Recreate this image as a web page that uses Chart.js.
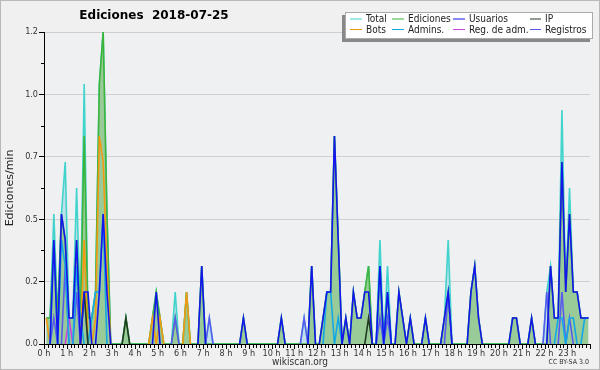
<!DOCTYPE html>
<html>
<head>
<meta charset="utf-8">
<script src="https://cdn.jsdelivr.net/npm/chart.js@4.4.0/dist/chart.umd.min.js"></script>
<style>
  html, body { margin: 0; padding: 0; background: #f0f0f0; }
  #wrap { width: 600px; height: 370px; }
</style>
</head>
<body>
<div id="wrap"><canvas id="grafico" width="600" height="370"></canvas></div>
<script>
// Ediciones por minuto, tramos de 10 minutos (144 por día)
const horas = ['0 h', '1 h', '2 h', '3 h', '4 h', '5 h', '6 h', '7 h', '8 h', '9 h', '10 h', '11 h',
               '12 h', '13 h', '14 h', '15 h', '16 h', '17 h', '18 h', '19 h', '20 h', '21 h', '22 h', '23 h'];

const total = [
  0.1, 0.1, 0.5, 0.1, 0.5, 0.7, 0.1, 0.1, 0.6, 0.1, 1.0, 0.1,
  0.1, 0.2, 1.0, 1.2, 0.5, 0, 0, 0, 0, 0.1, 0, 0,
  0, 0, 0, 0, 0.1, 0.2, 0.1, 0, 0, 0, 0.2, 0,
  0, 0.2, 0, 0, 0, 0.3, 0, 0.1, 0, 0, 0, 0,
  0, 0, 0, 0, 0.1, 0, 0, 0, 0, 0, 0, 0,
  0, 0, 0.1, 0, 0, 0, 0, 0, 0.1, 0, 0.3, 0,
  0, 0.1, 0.2, 0.2, 0.8, 0.4, 0, 0.1, 0, 0.2, 0.1, 0.1,
  0.2, 0.3, 0, 0, 0.4, 0, 0.3, 0, 0, 0.2, 0.1, 0,
  0.1, 0, 0, 0, 0.1, 0, 0, 0, 0, 0.1, 0.4, 0,
  0, 0, 0, 0, 0.2, 0.3, 0.1, 0, 0, 0, 0, 0,
  0, 0, 0, 0.1, 0.1, 0, 0, 0, 0.1, 0, 0, 0,
  0.2, 0.3, 0.1, 0.1, 0.9, 0.2, 0.6, 0.2, 0.2, 0.1, 0.1, 0.1
];

const ediciones = [
  0.1, 0.1, 0.4, 0.1, 0.5, 0.4, 0.1, 0.1, 0.4, 0.1, 0.8, 0.1,
  0.1, 0.2, 1.0, 1.2, 0.5, 0, 0, 0, 0, 0.1, 0, 0,
  0, 0, 0, 0, 0.1, 0.2, 0.1, 0, 0, 0, 0.1, 0,
  0, 0.2, 0, 0, 0, 0.3, 0, 0, 0, 0, 0, 0,
  0, 0, 0, 0, 0.1, 0, 0, 0, 0, 0, 0, 0,
  0, 0, 0.1, 0, 0, 0, 0, 0, 0, 0, 0.3, 0,
  0, 0.1, 0.2, 0.2, 0.8, 0.4, 0, 0.1, 0, 0.2, 0.1, 0.1,
  0.2, 0.3, 0, 0, 0.3, 0, 0.2, 0, 0, 0.2, 0.1, 0,
  0.1, 0, 0, 0, 0.1, 0, 0, 0, 0, 0.1, 0.2, 0,
  0, 0, 0, 0, 0.2, 0.3, 0.1, 0, 0, 0, 0, 0,
  0, 0, 0, 0.1, 0.1, 0, 0, 0, 0.1, 0, 0, 0,
  0, 0.3, 0.1, 0.1, 0.7, 0.2, 0.5, 0.2, 0.2, 0.1, 0.1, 0.1
];

const usuarios = [
  0, 0, 0.4, 0, 0.5, 0.4, 0.1, 0.1, 0.4, 0, 0.2, 0.2,
  0, 0, 0.2, 0.5, 0.2, 0, 0, 0, 0, 0, 0, 0,
  0, 0, 0, 0, 0, 0.2, 0, 0, 0, 0, 0, 0,
  0, 0, 0, 0, 0, 0.3, 0, 0, 0, 0, 0, 0,
  0, 0, 0, 0, 0.1, 0, 0, 0, 0, 0, 0, 0,
  0, 0, 0.1, 0, 0, 0, 0, 0, 0, 0, 0.3, 0,
  0, 0.1, 0.2, 0.2, 0.8, 0.4, 0, 0.1, 0, 0.2, 0.1, 0.1,
  0.2, 0.2, 0, 0, 0.3, 0, 0.2, 0, 0, 0.2, 0.1, 0,
  0.1, 0, 0, 0, 0.1, 0, 0, 0, 0, 0.1, 0.2, 0,
  0, 0, 0, 0, 0.2, 0.3, 0.1, 0, 0, 0, 0, 0,
  0, 0, 0, 0.1, 0.1, 0, 0, 0, 0.1, 0, 0, 0,
  0, 0.3, 0.1, 0.1, 0.7, 0.2, 0.5, 0.2, 0.2, 0.1, 0.1, 0.1
];

const ip = [
  0, 0, 0, 0, 0, 0, 0, 0, 0, 0, 0.2, 0,
  0, 0, 0, 0, 0, 0, 0, 0, 0, 0.1, 0, 0,
  0, 0, 0, 0, 0, 0, 0, 0, 0, 0, 0, 0,
  0, 0, 0, 0, 0, 0, 0, 0, 0, 0, 0, 0,
  0, 0, 0, 0, 0, 0, 0, 0, 0, 0, 0, 0,
  0, 0, 0, 0, 0, 0, 0, 0, 0, 0, 0, 0,
  0, 0, 0, 0, 0, 0, 0, 0, 0, 0, 0, 0,
  0, 0.1, 0, 0, 0, 0, 0, 0, 0, 0, 0, 0,
  0, 0, 0, 0, 0, 0, 0, 0, 0, 0, 0, 0,
  0, 0, 0, 0, 0, 0, 0, 0, 0, 0, 0, 0,
  0, 0, 0, 0, 0, 0, 0, 0, 0, 0, 0, 0,
  0, 0, 0, 0, 0, 0, 0, 0, 0, 0, 0, 0
];

const bots = [
  0.1, 0, 0, 0, 0, 0, 0, 0, 0, 0, 0.4, 0,
  0, 0.1, 0.8, 0.7, 0.3, 0, 0, 0, 0, 0, 0, 0,
  0, 0, 0, 0, 0.1, 0, 0.1, 0, 0, 0, 0, 0,
  0, 0.2, 0, 0, 0, 0, 0, 0, 0, 0, 0, 0,
  0, 0, 0, 0, 0, 0, 0, 0, 0, 0, 0, 0,
  0, 0, 0, 0, 0, 0, 0, 0, 0, 0, 0, 0,
  0, 0, 0, 0, 0, 0, 0, 0, 0, 0, 0, 0,
  0, 0, 0, 0, 0, 0, 0, 0, 0, 0, 0, 0,
  0, 0, 0, 0, 0, 0, 0, 0, 0, 0, 0, 0,
  0, 0, 0, 0, 0, 0, 0, 0, 0, 0, 0, 0,
  0, 0, 0, 0, 0, 0, 0, 0, 0, 0, 0, 0,
  0, 0, 0, 0, 0, 0, 0, 0, 0, 0, 0, 0
];

const admins = [
  0, 0, 0.4, 0, 0.4, 0.3, 0, 0, 0.3, 0.1, 0, 0,
  0.1, 0.2, 0.2, 0.5, 0, 0, 0, 0, 0, 0, 0, 0,
  0, 0, 0, 0, 0, 0, 0, 0, 0, 0, 0, 0,
  0, 0, 0, 0, 0, 0, 0, 0, 0, 0, 0, 0,
  0, 0, 0, 0, 0, 0, 0, 0, 0, 0, 0, 0,
  0, 0, 0, 0, 0, 0, 0, 0, 0, 0, 0, 0,
  0, 0, 0.2, 0.2, 0, 0.1, 0, 0, 0, 0, 0, 0,
  0, 0, 0, 0, 0.3, 0, 0.2, 0, 0, 0, 0, 0,
  0, 0, 0, 0, 0, 0, 0, 0, 0, 0, 0, 0,
  0, 0, 0, 0, 0, 0, 0, 0, 0, 0, 0, 0,
  0, 0, 0, 0, 0, 0, 0, 0, 0, 0, 0, 0,
  0, 0, 0, 0.1, 0.1, 0, 0.1, 0.1, 0, 0, 0.1, 0.1
];

const regAdm = [
  0, 0, 0, 0, 0, 0, 0.1, 0, 0, 0, 0, 0,
  0, 0, 0, 0, 0, 0, 0, 0, 0, 0, 0, 0,
  0, 0, 0, 0, 0, 0, 0, 0, 0, 0, 0, 0,
  0, 0, 0, 0, 0, 0, 0, 0, 0, 0, 0, 0,
  0, 0, 0, 0, 0, 0, 0, 0, 0, 0, 0, 0,
  0, 0, 0, 0, 0, 0, 0, 0, 0, 0, 0, 0,
  0, 0, 0, 0, 0, 0, 0, 0, 0, 0, 0, 0,
  0, 0, 0, 0, 0, 0, 0, 0, 0, 0, 0, 0,
  0, 0, 0, 0, 0, 0, 0, 0, 0, 0, 0, 0,
  0, 0, 0, 0, 0, 0, 0, 0, 0, 0, 0, 0,
  0, 0, 0, 0, 0, 0, 0, 0, 0, 0, 0, 0,
  0, 0, 0, 0, 0, 0, 0, 0, 0, 0, 0, 0
];

const registros = [
  0, 0, 0.1, 0, 0, 0.3, 0, 0, 0.2, 0, 0.2, 0,
  0, 0, 0, 0, 0, 0, 0, 0, 0, 0, 0, 0,
  0, 0, 0, 0, 0, 0, 0, 0, 0, 0, 0.1, 0,
  0, 0, 0, 0, 0, 0, 0, 0.1, 0, 0, 0, 0,
  0, 0, 0, 0, 0, 0, 0, 0, 0, 0, 0, 0,
  0, 0, 0, 0, 0, 0, 0, 0, 0.1, 0, 0, 0,
  0, 0, 0, 0, 0, 0, 0, 0, 0, 0, 0, 0,
  0, 0, 0, 0, 0.1, 0, 0.1, 0, 0, 0, 0, 0,
  0, 0, 0, 0, 0, 0, 0, 0, 0, 0, 0.2, 0,
  0, 0, 0, 0, 0, 0, 0, 0, 0, 0, 0, 0,
  0, 0, 0, 0, 0, 0, 0, 0, 0, 0, 0, 0,
  0.2, 0, 0, 0, 0.2, 0, 0.1, 0, 0, 0, 0, 0
];

const FUENTE = "'DejaVu Sans Condensed', 'Liberation Sans Narrow', 'DejaVu Sans', sans-serif";

// puntos en el centro de cada tramo de 10 min
function puntos(arr) {
    return arr.map(function(v, i) { return { x: i + 0.6, y: v }; });
}

// no dibujar los tramos que van por el suelo
const ocultarCero = {
    borderColor: function(ctx) {
        return (ctx.p0.parsed.y === 0 && ctx.p1.parsed.y === 0) ? 'rgba(0,0,0,0)' : undefined;
    }
};

function serie(label, arr, color, orden, relleno) {
    return {
        label: label,
        data: puntos(arr),
        borderColor: color,
        backgroundColor: relleno || 'transparent',
        fill: relleno ? 'origin' : false,
        borderWidth: 1.6,
        tension: 0,
        pointRadius: 0,
        order: orden,
        segment: relleno ? undefined : ocultarCero
    };
}

const decoracion = {
    id: 'decoracion',
    beforeDraw: function(chart) {
        const ctx = chart.ctx;
        const a = chart.chartArea;
        ctx.save();
        ctx.fillStyle = '#f0f0f0';
        ctx.fillRect(0, 0, chart.width, chart.height);
        ctx.strokeStyle = '#b8b8b8';
        ctx.lineWidth = 1;
        ctx.strokeRect(0.5, 0.5, chart.width - 1, chart.height - 1);
        ctx.fillStyle = '#eef0f2';
        ctx.fillRect(a.left, a.top, a.right - a.left, a.bottom - a.top);
        ctx.restore();
    },
    afterDatasetsDraw: function(chart) {
        const ctx = chart.ctx;
        const a = chart.chartArea;
        const x = chart.scales.x;
        const y = chart.scales.y;
        ctx.save();
        ctx.strokeStyle = '#000';
        ctx.lineWidth = 1;
        // eje x y marcas cada 10 min
        ctx.beginPath();
        ctx.moveTo(a.left, a.bottom + 0.5);
        ctx.lineTo(a.right, a.bottom + 0.5);
        for (let i = 0; i <= 144; i++) {
            const px = Math.round(x.getPixelForValue(i)) + 0.5;
            ctx.moveTo(px, a.bottom);
            ctx.lineTo(px, a.bottom + (i % 6 === 0 ? 5 : 4));
        }
        // marcas menores del eje y
        for (let v = 0.12; v < 1.2; v += 0.24) {
            const py = Math.round(y.getPixelForValue(v)) + 0.5;
            ctx.moveTo(a.left - 3, py);
            ctx.lineTo(a.left, py);
        }
        ctx.moveTo(a.left + 0.5, a.top);
        ctx.lineTo(a.left + 0.5, a.bottom);
        ctx.stroke();
        ctx.restore();
    },
    afterDraw: function(chart) {
        const ctx = chart.ctx;
        ctx.save();
        // título
        ctx.fillStyle = '#000';
        ctx.font = "bold 12px 'DejaVu Sans', sans-serif";
        ctx.textAlign = 'center';
        ctx.textBaseline = 'middle';
        ctx.fillText('Ediciones  2018-07-25', 154, 16);

        // título del eje y
        ctx.save();
        ctx.translate(10, 188);
        ctx.rotate(-Math.PI / 2);
        ctx.font = "11px 'DejaVu Sans', sans-serif";
        ctx.fillStyle = '#222';
        ctx.fillText('Ediciones/min', 0, 0);
        ctx.restore();

        // pie
        ctx.fillStyle = '#333';
        ctx.font = '10px ' + FUENTE;
        ctx.fillText('wikiscan.org', 300, 362);
        ctx.font = '7px ' + FUENTE;
        ctx.textAlign = 'right';
        ctx.fillText('CC BY-SA 3.0', 589, 362);

        // leyenda
        ctx.fillStyle = '#888';
        ctx.fillRect(342, 15, 248, 27);
        ctx.fillStyle = '#fff';
        ctx.fillRect(345, 12, 248, 27);
        ctx.strokeStyle = '#aaa';
        ctx.lineWidth = 1;
        ctx.strokeRect(345.5, 12.5, 247, 26);

        const orden = [['Total', 'Ediciones', 'Usuarios', 'IP'],
                       ['Bots', 'Admins.', 'Reg. de adm.', 'Registros']];
        const colX = [350, 392, 453, 530];
        const txtX = [366, 408, 469, 545];
        const filaY = [19, 29.5];
        const colores = {};
        chart.data.datasets.forEach(function(d) { colores[d.label] = d.borderColor; });
        ctx.font = '10px ' + FUENTE;
        ctx.textAlign = 'left';
        ctx.textBaseline = 'middle';
        orden.forEach(function(fila, r) {
            fila.forEach(function(nombre, c) {
                ctx.strokeStyle = colores[nombre];
                ctx.lineWidth = 1;
                ctx.beginPath();
                ctx.moveTo(colX[c], filaY[r]);
                ctx.lineTo(txtX[c] - 4, filaY[r]);
                ctx.stroke();
                ctx.fillStyle = '#222';
                ctx.fillText(nombre, txtX[c], filaY[r] + 0.5);
            });
        });
        ctx.restore();
    }
};

new Chart(document.getElementById('grafico'), {
    type: 'line',
    data: {
        datasets: [
            serie('Usuarios', usuarios, '#1414ee', 1),
            serie('IP', ip, '#203a20', 2),
            serie('Admins.', admins, '#12a8e6', 3),
            serie('Bots', bots, '#f49a12', 4),
            serie('Reg. de adm.', regAdm, '#cc44dd', 5),
            serie('Registros', registros, '#5a5aee', 6),
            serie('Ediciones', ediciones, '#3cb43c', 7, '#98cb98'),
            serie('Total', total, '#40d4cc', 8, '#c2deea')
        ]
    },
    options: {
        responsive: false,
        animation: false,
        devicePixelRatio: 1,
        layout: { padding: { left: 0, right: 10, top: 32, bottom: 0 } },
        plugins: {
            legend: { display: false },
            tooltip: { enabled: false }
        },
        scales: {
            x: {
                type: 'linear',
                min: 0,
                max: 144,
                afterFit: function(s) { s.height = 26; },
                grid: { display: false, drawTicks: false },
                border: { display: false },
                ticks: {
                    stepSize: 6,
                    autoSkip: false,
                    maxRotation: 0,
                    padding: 4,
                    color: '#333',
                    font: { family: FUENTE, size: 9 },
                    callback: function(v) { return horas[v / 6] || ''; }
                }
            },
            y: {
                min: 0,
                max: 1.2,
                afterFit: function(s) { s.width = 44; },
                grid: { color: '#cfcfcf', tickColor: '#000', tickLength: 5 },
                border: { display: false },
                ticks: {
                    stepSize: 0.24,
                    padding: 1,
                    color: '#333',
                    font: { family: FUENTE, size: 9 },
                    callback: function(v) { return v.toFixed(1); }
                }
            }
        }
    },
    plugins: [decoracion]
});
</script>
</body>
</html>
